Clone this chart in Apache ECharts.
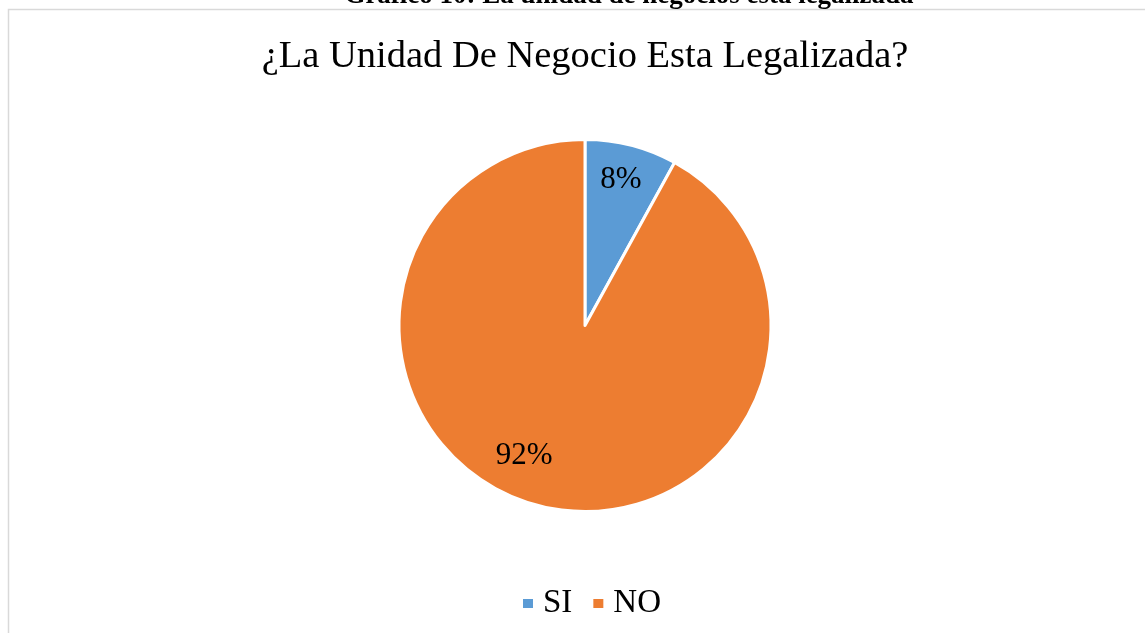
<!DOCTYPE html>
<html><head><meta charset="utf-8">
<script src="https://cdn.jsdelivr.net/npm/echarts@6/dist/echarts.min.js"></script>
<style>html,body{margin:0;padding:0;background:#fff;}#c{width:1145px;height:633px;}</style>
</head><body><div id="c"></div>
<script>
var categories = ['SI', 'NO'];
var values = [8, 92];
var colors = ['#5B9BD5', '#ED7D31'];
var labelOffsets = [[12, -53], [-37, 37]];

var chart = echarts.init(document.getElementById('c'));
chart.setOption({
  animation: false,
  graphic: [
    {type: 'rect', shape: {x: 8.5, y: 9.5, width: 1200, height: 700}, style: {fill: 'none', stroke: '#d9d9d9', lineWidth: 1.5}},
    {type: 'text', x: 629, y: 10, style: {text: 'Gráfico 10: La unidad de negocios esta legalizada', font: 'bold 27px "Liberation Serif"', fill: '#000', align: 'center', verticalAlign: 'bottom'}}
  ],
  title: {
    text: '¿La Unidad De Negocio Esta Legalizada?',
    left: 580, top: 32, textAlign: 'center',
    textStyle: {fontFamily: 'Liberation Serif', fontSize: 38.5, fontWeight: 'normal', color: '#000'}
  },
  legend: {
    top: 582, left: 516, itemWidth: 12, itemHeight: 11, itemGap: 19, icon: 'rect',
    textStyle: {fontFamily: 'Liberation Serif', fontSize: 33, color: '#000', padding: [0, 0, 0, 4]},
    data: categories
  },
  series: [{
    type: 'pie',
    center: [585, 325.5],
    radius: 186,
    startAngle: 90,
    clockwise: true,
    label: {position: 'inside', formatter: '{d}%', fontFamily: 'Liberation Serif', fontSize: 31, color: '#000'},
    labelLine: {show: false},
    itemStyle: {borderColor: '#fff', borderWidth: 3},
    emphasis: {disabled: true},
    data: categories.map(function (c, i) {
      return {name: c, value: values[i], itemStyle: {color: colors[i]}, label: {offset: labelOffsets[i]}};
    })
  }]
});
</script></body></html>
